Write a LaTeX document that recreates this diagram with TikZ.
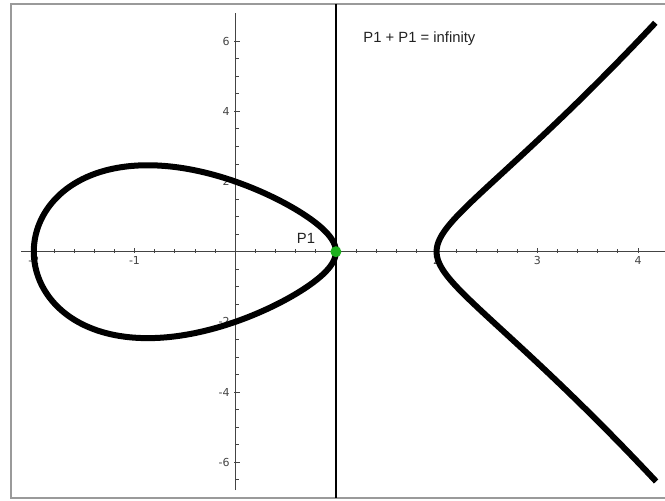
\documentclass[tikz,border=0pt]{standalone}
\usepackage{fontspec}
\setmainfont{Liberation Sans}
\newfontfamily\labfont{DejaVu Sans}
\definecolor{framegray}{HTML}{9A9A9A}
\definecolor{axisgray}{HTML}{444444}
\definecolor{ptgreen}{HTML}{1DB11D}
\definecolor{textdark}{HTML}{222222}
\begin{document}
\begin{tikzpicture}[x=100.7pt,y=35.1pt,
  curve/.style={line width=6pt,black,line join=round},
  axisline/.style={draw=axisgray,line width=1pt},
  tickline/.style={draw=axisgray,line width=0.8pt},
  ticklab/.style={font=\labfont\fontsize{11}{13}\selectfont,text=axisgray,inner sep=0pt},
  caption/.style={font=\fontsize{14.8}{17}\selectfont,inner sep=0pt,text=textdark}]
\useasboundingbox (-2.3356,-7.0741) rectangle (4.2681,7.1709);
\fill[white] (-2.3356,-7.0741) rectangle (4.2681,7.1709);
% frame
\coordinate (ftr) at (4.5,7.057);
\coordinate (ftl) at (-2.2214,7.057);
\coordinate (fbl) at (-2.2214,-7.017);
\coordinate (fbr) at (4.5,-7.017);
\draw[framegray,line width=2pt] (ftr) -- (ftl) -- (fbl) -- (fbr);
% axes
\coordinate (xa) at (-2.127,0);
\coordinate (xb) at (4.2681,0);
\coordinate (ya) at (0,-6.7892);
\coordinate (yb) at (0,6.8006);
\draw[axisline] (xa) -- (xb);
\draw[axisline] (ya) -- (yb);
% x ticks
\foreach \i in {-10,...,20} \draw[tickline] (\i/5,0) ++(0,-1pt) -- ++(0,3.5pt);
\foreach \k in {-2,...,4} \draw[tickline] (\k,0) ++(0,-1pt) -- ++(0,5pt);
% y ticks
\foreach \i in {-13,...,12} \draw[tickline] (0,\i/2) -- ++(3.5pt,0);
\foreach \k in {-6,-4,...,6} \draw[tickline] (0,\k) ++(-1pt,0) -- ++(6pt,0);
% labels
\foreach \k in {-2,-1,2,3,4} \node[ticklab] (xl\k) at ([yshift=-8.5pt]\k,0) {\k};
\foreach \k in {-6,-4,-2,2,4,6} \node[ticklab,anchor=east] (yl\k) at ([xshift=-5.3pt]0,\k) {\k};
% vertical line x = 1
\coordinate (vt) at (1,7.057);
\coordinate (vb) at (1,-7.017);
\draw[black,line width=2pt] (vt) -- (vb);
% curve y^2 = (x+2)(x-1)(x-2)
\draw[curve] plot[domain=0:360,samples=360] ({-0.5-1.5*cos(\x)},{1.5*sin(\x)*sqrt(2.5+1.5*cos(\x))}) -- cycle;
\draw[curve] plot[domain=-1.4765:1.4765,samples=240] ({2+\x*\x},{\x*sqrt((4+\x*\x)*(1+\x*\x))});
% point
\node[circle,fill=ptgreen,minimum size=11pt,inner sep=0pt] (P) at (1,0) {};
\node[caption,anchor=base west] (plab) at (0.6107,0.2194) {P1};
\node[caption,anchor=base west] (title) at (1.2721,5.9544) {P1 + P1 = infinity};
\end{tikzpicture}
\end{document}
